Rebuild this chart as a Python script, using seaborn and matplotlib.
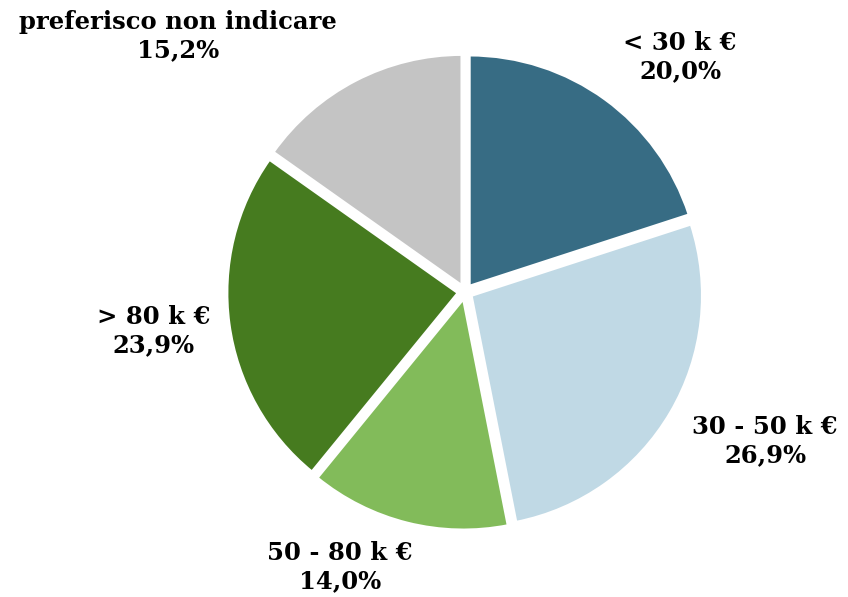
import matplotlib
matplotlib.use("Agg")
import matplotlib.pyplot as plt
import seaborn as sns

sns.set_theme(style="white")
plt.rcParams['font.family'] = ['DejaVu Serif']

# data
categories = ["< 30 k €", "30 - 50 k €", "50 - 80 k €", "> 80 k €", "preferisco non indicare"]
shares = [20.0, 26.9, 14.0, 23.9, 15.2]
colors = ["#376C84", "#C0D9E5", "#82BB5A", "#467B1F", "#C4C4C4"]

# label centres (axes data units, pie radius = 1)
label_pos = [(0.907, 0.992), (1.266, -0.629), (-0.527, -1.160), (-1.316, -0.165), (-1.211, 1.080)]

fig = plt.figure(figsize=(8.48, 5.97), dpi=100)
ax = fig.add_axes([0.269, 0.114, 0.559, 0.794])

wedges, _ = ax.pie(shares, colors=colors, startangle=90, counterclock=False,
                   explode=[0.03] * len(shares), radius=0.975,
                   wedgeprops=dict(edgecolor="white", linewidth=2))
ax.set_xlim(-1, 1)
ax.set_ylim(-1, 1)
ax.set_aspect("equal")

for cat, val, (x, y) in zip(categories, shares, label_pos):
    txt = "{}\n{}%".format(cat, "{:.1f}".format(val).replace(".", ","))
    ax.text(x, y, txt, ha="center", va="center", fontsize=17.5, fontweight="bold",
            color="black", linespacing=1.2, clip_on=False)

plt.savefig("out.png", dpi=100)
plt.close()
